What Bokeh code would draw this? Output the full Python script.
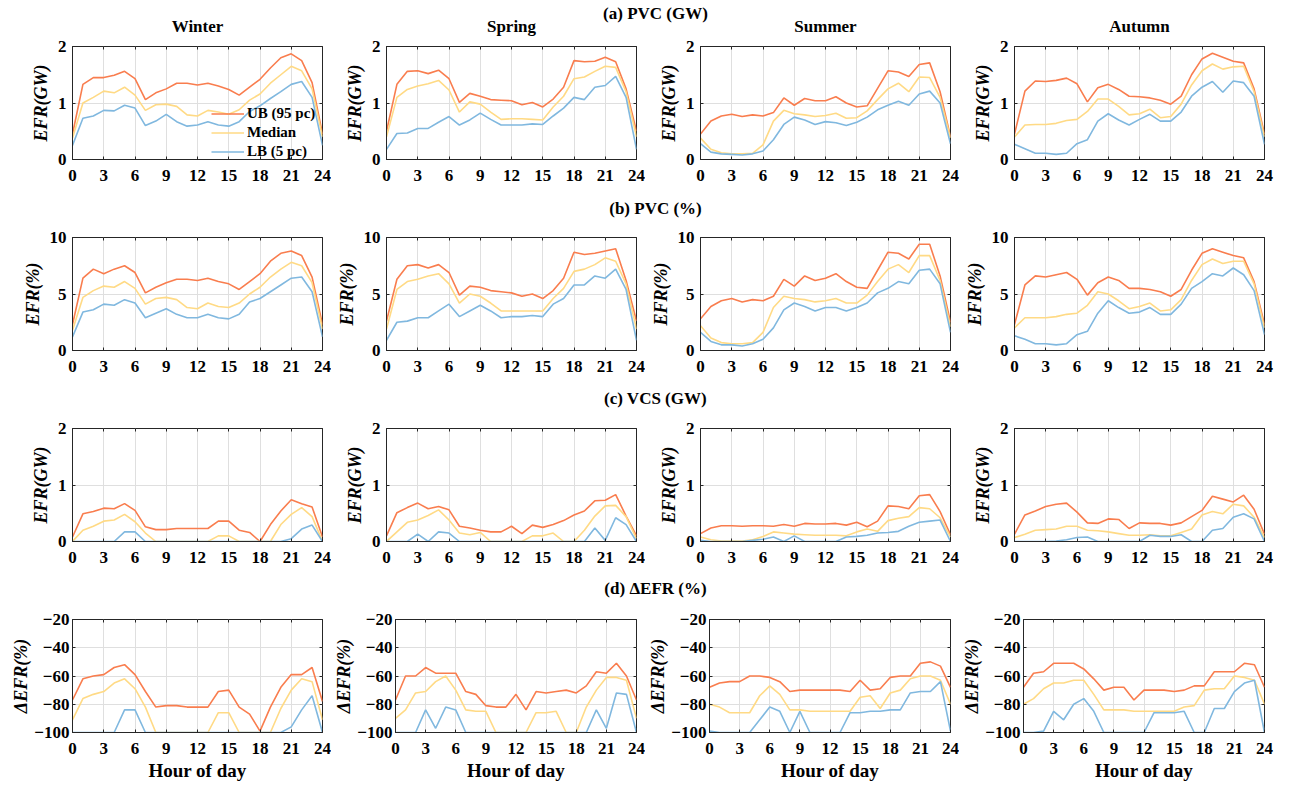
from bokeh.plotting import figure
from bokeh.layouts import column, row
from bokeh.models import Range1d, FixedTicker, Legend, LegendItem, LinearAxis
from bokeh.embed import file_html
from bokeh.resources import INLINE
from bokeh.core.properties import value

hours = list(range(25))
hour_ticks = [0, 3, 6, 9, 12, 15, 18, 21, 24]
seasons = ["Winter", "Spring", "Summer", "Autumn"]
series_names = ["UB (95 pc)", "Median", "LB (5 pc)"]

# ---------------- (a) PVC (GW) ----------------
pvc_gw_winter_ub = [0.45, 1.33, 1.45, 1.45, 1.49, 1.56, 1.43, 1.06, 1.18, 1.25, 1.35, 1.35, 1.32,
                    1.35, 1.30, 1.24, 1.14, 1.28, 1.42, 1.62, 1.80, 1.87, 1.75, 1.36, 0.45]
pvc_gw_winter_med = [0.38, 1.00, 1.10, 1.21, 1.18, 1.28, 1.14, 0.87, 0.97, 0.98, 0.94, 0.79, 0.77,
                     0.87, 0.84, 0.80, 0.88, 1.05, 1.16, 1.35, 1.50, 1.65, 1.57, 1.25, 0.40]
pvc_gw_winter_lb = [0.25, 0.73, 0.77, 0.87, 0.86, 0.96, 0.91, 0.60, 0.68, 0.80, 0.67, 0.59, 0.61,
                    0.67, 0.61, 0.59, 0.67, 0.85, 0.95, 1.08, 1.20, 1.33, 1.38, 1.10, 0.25]
pvc_gw_spring_ub = [0.50, 1.33, 1.56, 1.57, 1.52, 1.58, 1.43, 1.01, 1.17, 1.12, 1.06, 1.05, 1.04,
                    0.97, 1.01, 0.93, 1.07, 1.28, 1.75, 1.73, 1.74, 1.81, 1.73, 1.25, 0.50]
pvc_gw_spring_med = [0.40, 1.10, 1.24, 1.30, 1.34, 1.40, 1.23, 0.84, 1.02, 0.98, 0.84, 0.71, 0.72,
                     0.72, 0.71, 0.70, 0.93, 1.12, 1.43, 1.46, 1.56, 1.65, 1.63, 1.20, 0.40]
pvc_gw_spring_lb = [0.18, 0.46, 0.47, 0.55, 0.55, 0.66, 0.76, 0.61, 0.70, 0.82, 0.71, 0.61, 0.61,
                    0.61, 0.63, 0.62, 0.77, 0.91, 1.10, 1.06, 1.28, 1.31, 1.47, 1.10, 0.18]
pvc_gw_summer_ub = [0.45, 0.68, 0.77, 0.80, 0.76, 0.79, 0.77, 0.83, 1.09, 0.96, 1.08, 1.04, 1.04,
                    1.11, 1.00, 0.93, 0.95, 1.26, 1.57, 1.55, 1.47, 1.68, 1.71, 1.20, 0.40]
pvc_gw_summer_med = [0.38, 0.18, 0.12, 0.10, 0.10, 0.11, 0.26, 0.68, 0.87, 0.81, 0.79, 0.76, 0.78,
                     0.82, 0.73, 0.74, 0.86, 1.06, 1.25, 1.35, 1.20, 1.46, 1.45, 1.10, 0.38]
pvc_gw_summer_lb = [0.28, 0.13, 0.10, 0.09, 0.08, 0.10, 0.15, 0.35, 0.62, 0.75, 0.70, 0.62, 0.67,
                    0.65, 0.60, 0.66, 0.75, 0.88, 0.96, 1.03, 0.96, 1.16, 1.21, 1.00, 0.28]
pvc_gw_autumn_ub = [0.45, 1.21, 1.39, 1.38, 1.40, 1.44, 1.34, 1.02, 1.27, 1.33, 1.24, 1.12, 1.11,
                    1.09, 1.05, 0.98, 1.12, 1.50, 1.78, 1.88, 1.81, 1.74, 1.71, 1.25, 0.45]
pvc_gw_autumn_med = [0.40, 0.61, 0.62, 0.62, 0.64, 0.69, 0.71, 0.85, 1.07, 1.07, 0.94, 0.79, 0.81,
                     0.89, 0.74, 0.76, 0.98, 1.32, 1.57, 1.69, 1.60, 1.64, 1.65, 1.20, 0.40]
pvc_gw_autumn_lb = [0.27, 0.19, 0.11, 0.11, 0.09, 0.11, 0.28, 0.35, 0.68, 0.81, 0.70, 0.61, 0.71,
                    0.80, 0.68, 0.68, 0.84, 1.12, 1.28, 1.38, 1.19, 1.39, 1.36, 1.12, 0.27]

# ---------------- (b) PVC (%) ----------------
pvc_pct_winter_ub = [2.3, 6.4, 7.2, 6.8, 7.2, 7.5, 6.9, 5.1, 5.6, 6.0, 6.3, 6.3, 6.2,
                     6.4, 6.1, 5.9, 5.4, 6.1, 6.8, 7.9, 8.6, 8.8, 8.4, 6.5, 2.3]
pvc_pct_winter_med = [1.8, 4.7, 5.3, 5.7, 5.6, 6.1, 5.5, 4.1, 4.6, 4.7, 4.5, 3.8, 3.7,
                      4.2, 3.9, 3.8, 4.2, 5.0, 5.6, 6.5, 7.2, 7.8, 7.5, 6.0, 1.9]
pvc_pct_winter_lb = [1.2, 3.4, 3.6, 4.1, 4.0, 4.5, 4.2, 2.9, 3.3, 3.7, 3.2, 2.9, 2.9,
                     3.2, 2.9, 2.8, 3.2, 4.3, 4.6, 5.2, 5.8, 6.4, 6.5, 5.2, 1.2]
pvc_pct_spring_ub = [2.6, 6.3, 7.5, 7.6, 7.3, 7.6, 6.9, 4.9, 5.7, 5.6, 5.3, 5.2, 5.1,
                     4.8, 5.0, 4.6, 5.3, 6.4, 8.7, 8.5, 8.6, 8.8, 9.0, 6.2, 2.6]
pvc_pct_spring_med = [1.9, 5.4, 6.1, 6.3, 6.6, 6.8, 5.9, 4.2, 5.0, 4.8, 4.2, 3.5, 3.5,
                      3.5, 3.5, 3.5, 4.6, 5.5, 7.0, 7.2, 7.6, 8.2, 7.9, 5.9, 1.9]
pvc_pct_spring_lb = [0.9, 2.5, 2.6, 2.9, 2.9, 3.5, 4.1, 3.0, 3.5, 4.0, 3.5, 2.9, 3.0,
                     3.0, 3.1, 3.0, 4.1, 4.6, 5.8, 5.8, 6.6, 6.4, 7.2, 5.4, 0.9]
pvc_pct_summer_ub = [2.8, 3.9, 4.4, 4.6, 4.3, 4.5, 4.4, 4.8, 6.3, 5.7, 6.6, 6.2, 6.4,
                     6.8, 6.1, 5.6, 5.5, 7.1, 8.7, 8.6, 8.1, 9.4, 9.4, 6.6, 2.5]
pvc_pct_summer_med = [2.2, 1.1, 0.7, 0.6, 0.6, 0.7, 1.6, 3.8, 4.8, 4.6, 4.5, 4.3, 4.4,
                      4.6, 4.2, 4.2, 4.9, 6.1, 7.2, 7.6, 6.9, 8.4, 8.4, 6.2, 2.1]
pvc_pct_summer_lb = [1.6, 0.8, 0.5, 0.5, 0.4, 0.6, 1.0, 2.0, 3.6, 4.2, 3.9, 3.5, 3.8,
                     3.8, 3.5, 3.8, 4.2, 5.1, 5.5, 6.1, 5.9, 7.1, 7.2, 5.9, 1.6]
pvc_pct_autumn_ub = [2.3, 5.8, 6.6, 6.5, 6.7, 6.9, 6.3, 4.9, 6.0, 6.5, 6.2, 5.5, 5.5,
                     5.4, 5.2, 4.8, 5.4, 7.1, 8.6, 9.0, 8.7, 8.4, 8.2, 6.1, 2.3]
pvc_pct_autumn_med = [2.0, 2.9, 2.9, 2.9, 3.0, 3.2, 3.3, 4.0, 5.2, 5.0, 4.4, 3.7, 3.9,
                      4.2, 3.5, 3.6, 4.5, 6.2, 7.6, 8.1, 7.7, 7.9, 7.9, 5.9, 2.0]
pvc_pct_autumn_lb = [1.3, 1.0, 0.6, 0.6, 0.5, 0.6, 1.4, 1.7, 3.3, 4.4, 3.8, 3.3, 3.4,
                     3.8, 3.2, 3.2, 4.1, 5.5, 6.1, 6.8, 6.6, 7.3, 6.7, 5.3, 1.4]

# ---------------- (c) VCS (GW) ----------------
vcs_gw_winter_ub = [0.08, 0.49, 0.53, 0.59, 0.58, 0.67, 0.55, 0.26, 0.21, 0.21, 0.23, 0.23, 0.23,
                    0.23, 0.36, 0.36, 0.20, 0.16, 0.00, 0.30, 0.54, 0.74, 0.67, 0.61, 0.08]
vcs_gw_winter_med = [0.00, 0.20, 0.27, 0.36, 0.38, 0.48, 0.35, 0.15, 0.00, 0.00, 0.00, 0.00, 0.00,
                     0.00, 0.10, 0.10, 0.00, 0.00, 0.00, 0.00, 0.30, 0.48, 0.60, 0.44, 0.00]
vcs_gw_winter_lb = [0.00, 0.00, 0.00, 0.00, 0.00, 0.17, 0.17, 0.00, 0.00, 0.00, 0.00, 0.00, 0.00,
                    0.00, 0.00, 0.00, 0.00, 0.00, 0.00, 0.00, 0.00, 0.05, 0.22, 0.29, 0.00]
vcs_gw_spring_ub = [0.10, 0.51, 0.60, 0.68, 0.58, 0.62, 0.56, 0.27, 0.24, 0.20, 0.17, 0.17, 0.27,
                    0.14, 0.29, 0.25, 0.30, 0.37, 0.47, 0.54, 0.72, 0.73, 0.83, 0.45, 0.10]
vcs_gw_spring_med = [0.00, 0.17, 0.34, 0.38, 0.46, 0.56, 0.38, 0.15, 0.12, 0.16, 0.00, 0.00, 0.00,
                     0.00, 0.10, 0.10, 0.15, 0.00, 0.00, 0.20, 0.45, 0.63, 0.64, 0.44, 0.05]
vcs_gw_spring_lb = [0.00, 0.00, 0.00, 0.13, 0.00, 0.17, 0.15, 0.00, 0.00, 0.00, 0.00, 0.00, 0.00,
                    0.00, 0.00, 0.00, 0.00, 0.00, 0.00, 0.00, 0.24, 0.02, 0.42, 0.30, 0.00]
vcs_gw_summer_ub = [0.14, 0.24, 0.28, 0.28, 0.27, 0.28, 0.28, 0.27, 0.30, 0.27, 0.32, 0.31, 0.31,
                    0.32, 0.29, 0.34, 0.26, 0.36, 0.63, 0.62, 0.58, 0.81, 0.83, 0.53, 0.12]
vcs_gw_summer_med = [0.08, 0.03, 0.01, 0.01, 0.01, 0.03, 0.09, 0.17, 0.15, 0.13, 0.12, 0.11, 0.11,
                     0.11, 0.10, 0.17, 0.22, 0.18, 0.37, 0.41, 0.44, 0.60, 0.58, 0.42, 0.08]
vcs_gw_summer_lb = [0.02, 0.00, 0.00, 0.00, 0.00, 0.02, 0.04, 0.08, 0.00, 0.10, 0.00, 0.00, 0.00,
                    0.00, 0.08, 0.09, 0.11, 0.15, 0.16, 0.18, 0.27, 0.34, 0.36, 0.38, 0.00]
vcs_gw_autumn_ub = [0.13, 0.47, 0.54, 0.62, 0.66, 0.68, 0.52, 0.33, 0.32, 0.40, 0.39, 0.23, 0.33,
                    0.32, 0.32, 0.29, 0.33, 0.44, 0.55, 0.80, 0.75, 0.70, 0.82, 0.57, 0.13]
vcs_gw_autumn_med = [0.07, 0.13, 0.20, 0.21, 0.22, 0.27, 0.27, 0.20, 0.19, 0.17, 0.14, 0.11, 0.11,
                     0.12, 0.10, 0.10, 0.16, 0.22, 0.47, 0.53, 0.49, 0.66, 0.63, 0.43, 0.07]
vcs_gw_autumn_lb = [0.00, 0.00, 0.00, 0.00, 0.01, 0.03, 0.07, 0.08, 0.00, 0.00, 0.00, 0.00, 0.00,
                    0.11, 0.09, 0.09, 0.12, 0.00, 0.00, 0.20, 0.23, 0.43, 0.49, 0.40, 0.00]

# ---------------- (d) delta EFR (%) ----------------
d_efr_winter_ub = [-77, -62, -60, -59, -54, -52, -59, -71, -82, -81, -81, -82, -82,
                   -82, -71, -70, -82, -87, -99, -82, -68, -59, -59, -54, -78]
d_efr_winter_med = [-91, -76, -73, -71, -65, -62, -69, -82, -100, -100, -100, -100, -100,
                    -100, -86, -86, -100, -100, -100, -100, -83, -70, -62, -64, -91]
d_efr_winter_lb = [-100, -100, -100, -100, -100, -84, -84, -100, -100, -100, -100, -100, -100,
                   -100, -100, -100, -100, -100, -100, -100, -100, -96, -84, -74, -100]
d_efr_spring_ub = [-77, -60, -60, -54, -58, -58, -58, -71, -73, -81, -82, -82, -73,
                   -84, -71, -72, -71, -70, -72, -67, -57, -58, -51, -60, -77]
d_efr_spring_med = [-90, -84, -72, -71, -64, -60, -70, -84, -85, -85, -100, -100, -100,
                    -100, -86, -86, -85, -100, -100, -82, -70, -61, -61, -63, -90]
d_efr_spring_lb = [-100, -100, -100, -84, -97, -82, -84, -100, -100, -100, -100, -100, -100,
                   -100, -100, -100, -100, -100, -100, -100, -84, -97, -72, -73, -100]
d_efr_summer_ub = [-68, -65, -64, -64, -60, -60, -61, -64, -71, -70, -70, -70, -70,
                   -70, -71, -63, -70, -69, -61, -60, -60, -51, -50, -53, -68]
d_efr_summer_med = [-80, -82, -86, -86, -86, -74, -67, -73, -84, -84, -85, -85, -85,
                    -85, -85, -75, -74, -83, -72, -70, -62, -60, -60, -63, -80]
d_efr_summer_lb = [-99, -100, -100, -100, -100, -91, -82, -85, -100, -85, -100, -100, -100,
                   -100, -86, -86, -85, -85, -84, -84, -72, -71, -71, -64, -99]
d_efr_autumn_ub = [-68, -58, -57, -51, -51, -51, -55, -62, -70, -68, -68, -77, -70,
                   -70, -70, -71, -70, -67, -67, -57, -57, -57, -51, -52, -68]
d_efr_autumn_med = [-80, -76, -69, -65, -65, -63, -63, -73, -84, -84, -84, -85, -85,
                    -85, -85, -85, -82, -81, -70, -69, -69, -60, -61, -63, -80]
d_efr_autumn_lb = [-100, -100, -99, -85, -91, -80, -76, -85, -100, -100, -100, -100, -100,
                   -86, -86, -86, -85, -100, -100, -83, -83, -71, -65, -63, -100]

FONT = "Liberation Serif"
UB_COLOR, MED_COLOR, LB_COLOR = "#F97D4E", "#FFDA85", "#80B8DF"
AXIS_COLOR = "#262626"
GRID_COLOR = "#DFDFDF"

PAGE_W = 1294
# per-column figure widths and borders (frames are 250 px wide)
COL_W = [331, 314, 314, 335]
COL_LEFT = [72, 55, 55, 55]
COL_RIGHT = [9, 9, 9, 30]
FRAME_CENTERS = [197, 511, 825, 1139]
STRIP_H = 36
TOP_BORDER = 10

rows_spec = [
    dict(title="(a) PVC (GW)", ylabel="EFR(GW)", yr=(0, 2), yticks=[0, 1, 2],
         data=[(pvc_gw_winter_ub, pvc_gw_winter_med, pvc_gw_winter_lb),
               (pvc_gw_spring_ub, pvc_gw_spring_med, pvc_gw_spring_lb),
               (pvc_gw_summer_ub, pvc_gw_summer_med, pvc_gw_summer_lb),
               (pvc_gw_autumn_ub, pvc_gw_autumn_med, pvc_gw_autumn_lb)]),
    dict(title="(b) PVC (%)", ylabel="EFR(%)", yr=(0, 10), yticks=[0, 5, 10],
         data=[(pvc_pct_winter_ub, pvc_pct_winter_med, pvc_pct_winter_lb),
               (pvc_pct_spring_ub, pvc_pct_spring_med, pvc_pct_spring_lb),
               (pvc_pct_summer_ub, pvc_pct_summer_med, pvc_pct_summer_lb),
               (pvc_pct_autumn_ub, pvc_pct_autumn_med, pvc_pct_autumn_lb)]),
    dict(title="(c) VCS (GW)", ylabel="EFR(GW)", yr=(0, 2), yticks=[0, 1, 2],
         data=[(vcs_gw_winter_ub, vcs_gw_winter_med, vcs_gw_winter_lb),
               (vcs_gw_spring_ub, vcs_gw_spring_med, vcs_gw_spring_lb),
               (vcs_gw_summer_ub, vcs_gw_summer_med, vcs_gw_summer_lb),
               (vcs_gw_autumn_ub, vcs_gw_autumn_med, vcs_gw_autumn_lb)]),
    dict(title="(d) \u0394EFR (%)", ylabel="\u0394EFR(%)", yr=(-100, -20),
         yticks=[-100, -80, -60, -40, -20],
         data=[(d_efr_winter_ub, d_efr_winter_med, d_efr_winter_lb),
               (d_efr_spring_ub, d_efr_spring_med, d_efr_spring_lb),
               (d_efr_summer_ub, d_efr_summer_med, d_efr_summer_lb),
               (d_efr_autumn_ub, d_efr_autumn_med, d_efr_autumn_lb)]),
]


def strip(height, items):
    """A thin text-only band: items are (x, y_from_top, text, size)."""
    s = figure(width=PAGE_W, height=height, x_range=Range1d(0, PAGE_W),
               y_range=Range1d(height, 0), output_backend="svg", toolbar_location=None,
               x_axis_location=None, y_axis_location=None, min_border=0)
    s.grid.visible = False
    s.outline_line_color = None
    s.text(x=[i[0] for i in items], y=[i[1] for i in items], text=[i[2] for i in items],
           text_font=value(FONT), text_font_style="bold",
           text_font_size=[i[3] for i in items], text_align="center",
           text_baseline="middle", text_color="#000000")
    return s


def mirror_axis(ticks):
    """Unlabelled axis that only carries inward tick marks on the top/right edges."""
    return LinearAxis(ticker=FixedTicker(ticks=ticks), axis_line_color=None,
                      major_tick_line_color=AXIS_COLOR, major_tick_in=3, major_tick_out=0,
                      minor_tick_line_color=None, major_label_text_color=None,
                      major_label_text_font_size="1px", major_label_standoff=0)


def panel(col, spec, series, last_row, with_legend):
    height = TOP_BORDER + 113 + (56 if last_row else 32)
    p = figure(width=COL_W[col], height=height, x_range=Range1d(0, 24),
               y_range=Range1d(*spec["yr"]), output_backend="svg", toolbar_location=None,
               min_border_left=COL_LEFT[col], min_border_right=COL_RIGHT[col],
               min_border_top=TOP_BORDER, min_border_bottom=(56 if last_row else 32))
    ub, med, lb = series
    r_ub = p.line(hours, ub, line_color=UB_COLOR, line_width=1.6)
    r_med = p.line(hours, med, line_color=MED_COLOR, line_width=1.6)
    r_lb = p.line(hours, lb, line_color=LB_COLOR, line_width=1.6)

    p.xaxis.ticker = FixedTicker(ticks=hour_ticks)
    p.yaxis.ticker = FixedTicker(ticks=spec["yticks"])
    for ax in (p.xaxis[0], p.yaxis[0]):
        ax.axis_line_color = AXIS_COLOR
        ax.major_tick_line_color = AXIS_COLOR
        ax.major_tick_in = 3
        ax.major_tick_out = 0
        ax.minor_tick_line_color = None
        ax.major_label_text_font = FONT
        ax.major_label_text_font_style = "bold"
        ax.major_label_text_font_size = "17px"
        ax.major_label_text_color = "#000000"
        ax.axis_label_text_font = FONT
        ax.axis_label_text_color = "#000000"
    p.xaxis.major_label_standoff = 10
    p.yaxis.axis_label = spec["ylabel"]
    p.yaxis.axis_label_text_font_style = "bold italic"
    p.yaxis.axis_label_text_font_size = "18px"
    if last_row:
        # long tick labels: keep the axis compact
        p.yaxis.major_label_standoff = 3
        p.yaxis.axis_label_standoff = 0
        p.xaxis.axis_label = "Hour of day"
        p.xaxis.axis_label_text_font_style = "bold"
        p.xaxis.axis_label_text_font_size = "19px"
        p.xaxis.axis_label_standoff = 3
    else:
        p.yaxis.major_label_standoff = 6
        p.yaxis.axis_label_standoff = 4

    p.add_layout(mirror_axis(hour_ticks), "above")
    p.add_layout(mirror_axis(spec["yticks"]), "right")

    p.xgrid.grid_line_color = GRID_COLOR
    p.ygrid.grid_line_color = GRID_COLOR
    p.outline_line_color = AXIS_COLOR
    p.outline_line_width = 1
    p.background_fill_color = "#FFFFFF"
    p.border_fill_color = "#FFFFFF"

    if with_legend:
        legend = Legend(items=[LegendItem(label=series_names[0], renderers=[r_ub]),
                               LegendItem(label=series_names[1], renderers=[r_med]),
                               LegendItem(label=series_names[2], renderers=[r_lb])],
                        location=(139, -2), padding=0, margin=0, spacing=0,
                        label_height=19, glyph_height=19, glyph_width=33, label_standoff=3,
                        label_text_font=FONT, label_text_font_style="bold",
                        label_text_font_size="15px", label_text_color="#000000",
                        background_fill_alpha=0, border_line_alpha=0)
        p.add_layout(legend)
    return p


blocks = []
strip_text_y = [13, 17, 16, 15]
for ri, spec in enumerate(rows_spec):
    items = [(655, strip_text_y[ri], spec["title"], "17px")]
    if ri == 0:
        items += [(FRAME_CENTERS[c], 26, seasons[c], "17px") for c in range(4)]
    blocks.append(strip(STRIP_H, items))
    figs = [panel(c, spec, spec["data"][c], ri == 3, ri == 0 and c == 0) for c in range(4)]
    blocks.append(row(*figs, spacing=0))

layout = column(*blocks, spacing=0)
open("out.html", "w").write(file_html(layout, INLINE, title="EFR by hour of day"))
